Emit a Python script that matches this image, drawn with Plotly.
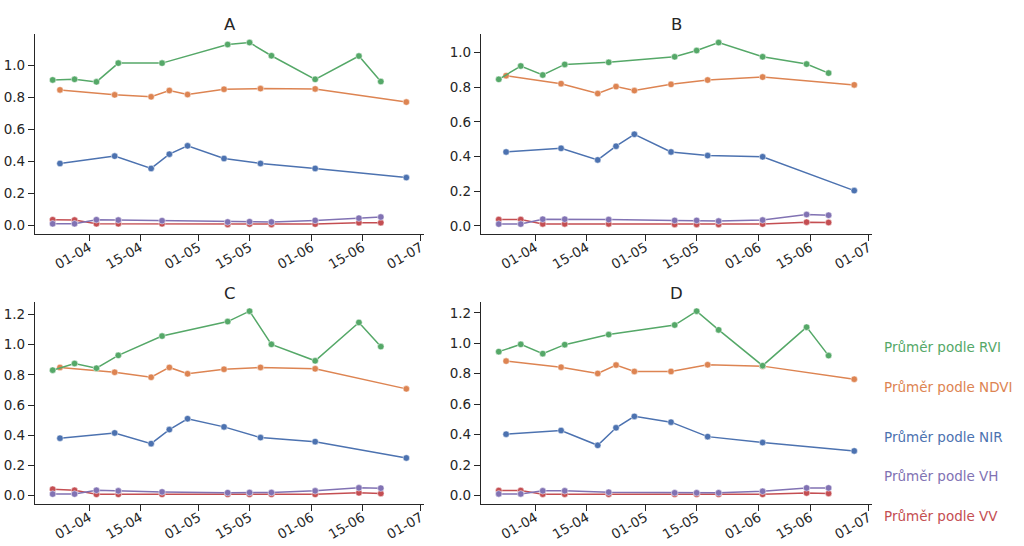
import plotly.graph_objects as go
from datetime import datetime, timedelta

# ---------------- data ----------------
S1_DATES = ["2023-03-22", "2023-03-28", "2023-04-03", "2023-04-09", "2023-04-21", "2023-05-09",
            "2023-05-15", "2023-05-21", "2023-06-02", "2023-06-14", "2023-06-20"]
S2_DATES = ["2023-03-24", "2023-04-08", "2023-04-18", "2023-04-23", "2023-04-28", "2023-05-08",
            "2023-05-18", "2023-06-02", "2023-06-27"]

PANELS = ["A", "B", "C", "D"]

RVI = {
    "A": [0.907, 0.911, 0.895, 1.012, 1.012, 1.128, 1.140, 1.058, 0.911, 1.056, 0.897],
    "B": [0.845, 0.922, 0.870, 0.931, 0.943, 0.975, 1.011, 1.057, 0.975, 0.933, 0.881],
    "C": [0.831, 0.875, 0.844, 0.929, 1.057, 1.153, 1.222, 1.002, 0.893, 1.147, 0.987],
    "D": [0.945, 0.993, 0.932, 0.991, 1.057, 1.120, 1.211, 1.088, 0.853, 1.106, 0.919],
}
NDVI = {
    "A": [0.845, 0.814, 0.802, 0.841, 0.816, 0.849, 0.853, 0.851, 0.769],
    "B": [0.866, 0.820, 0.763, 0.803, 0.780, 0.816, 0.841, 0.858, 0.813],
    "C": [0.849, 0.817, 0.784, 0.849, 0.807, 0.837, 0.849, 0.840, 0.707],
    "D": [0.883, 0.843, 0.802, 0.857, 0.815, 0.815, 0.859, 0.850, 0.764],
}
NIR = {
    "A": [0.386, 0.432, 0.355, 0.444, 0.496, 0.417, 0.386, 0.355, 0.298],
    "B": [0.426, 0.447, 0.380, 0.459, 0.528, 0.426, 0.405, 0.398, 0.203],
    "C": [0.380, 0.415, 0.344, 0.437, 0.509, 0.455, 0.384, 0.357, 0.249],
    "D": [0.403, 0.427, 0.330, 0.445, 0.520, 0.482, 0.387, 0.348, 0.293],
}
VV = {
    "A": [0.035, 0.033, 0.010, 0.010, 0.010, 0.006, 0.008, 0.006, 0.008, 0.017, 0.017],
    "B": [0.036, 0.036, 0.011, 0.011, 0.011, 0.008, 0.008, 0.008, 0.010, 0.021, 0.019],
    "C": [0.042, 0.035, 0.008, 0.008, 0.008, 0.008, 0.008, 0.008, 0.008, 0.018, 0.014],
    "D": [0.033, 0.033, 0.009, 0.009, 0.009, 0.008, 0.008, 0.008, 0.008, 0.017, 0.014],
}
VH = {
    "A": [0.010, 0.010, 0.035, 0.033, 0.029, 0.021, 0.023, 0.021, 0.031, 0.045, 0.052],
    "B": [0.010, 0.010, 0.038, 0.038, 0.036, 0.031, 0.031, 0.027, 0.033, 0.065, 0.061],
    "C": [0.010, 0.010, 0.035, 0.031, 0.024, 0.019, 0.020, 0.020, 0.031, 0.051, 0.049],
    "D": [0.011, 0.011, 0.031, 0.031, 0.022, 0.018, 0.018, 0.018, 0.028, 0.050, 0.050],
}

X_TICKS = ["2023-04-01", "2023-04-15", "2023-05-01", "2023-05-15", "2023-06-01", "2023-06-15", "2023-07-01"]
X_TICK_LABELS = ["01-04", "15-04", "01-05", "15-05", "01-06", "15-06", "01-07"]

LEGEND_LABELS = ["Průměr podle RVI", "Průměr podle NDVI", "Průměr podle NIR",
                 "Průměr podle VH", "Průměr podle VV"]

# ---------------- style ----------------
C_BLUE, C_ORANGE, C_GREEN, C_RED, C_PURPLE = "#4C72B0", "#DD8452", "#55A868", "#C44E52", "#8172B3"
INK = "#262626"
FONT = "DejaVu Sans"
W, H = 1024, 546

# axes boxes in pixels: (left, right, top, bottom)
BOXES = {
    "A": (35, 424, 33.5, 233.5),
    "B": (481, 872, 33.5, 233.5),
    "C": (35, 424, 302, 503.5),
    "D": (481, 872, 302, 503.5),
}

fig = go.Figure()

# x range with 5% margin (matplotlib style)
all_dates = [datetime.fromisoformat(d) for d in S1_DATES + S2_DATES]
dmin, dmax = min(all_dates), max(all_dates)
pad = (dmax - dmin) * 0.05
x_range = [(dmin - pad).isoformat(), (dmax + pad).isoformat()]

annotations = []
for i, p in enumerate(PANELS):
    n = "" if i == 0 else str(i + 1)
    xa, ya = "x" + n, "y" + n
    series = [
        (S2_DATES, NIR[p], C_BLUE),
        (S2_DATES, NDVI[p], C_ORANGE),
        (S1_DATES, RVI[p], C_GREEN),
        (S1_DATES, VV[p], C_RED),
        (S1_DATES, VH[p], C_PURPLE),
    ]
    for xs, ys, col in series:
        fig.add_trace(go.Scatter(
            x=xs, y=ys, mode="lines+markers", xaxis=xa, yaxis=ya,
            line=dict(color=col, width=1.5),
            marker=dict(color=col, size=6.5, line=dict(color="white", width=0.5)),
            showlegend=False, hoverinfo="skip",
        ))
    vals = RVI[p] + NDVI[p] + NIR[p] + VV[p] + VH[p]
    lo, hi = min(vals), max(vals)
    yp = (hi - lo) * 0.05
    l, r, t, b = BOXES[p]
    axis_common = dict(
        showgrid=False, zeroline=False, showline=True, linecolor=INK, linewidth=1.25,
        ticks="outside", ticklen=6, tickwidth=1.25, tickcolor=INK, automargin=False,
        tickfont=dict(family=FONT, size=13.5, color=INK),
    )
    fig.layout["xaxis" + n] = dict(
        axis_common, domain=[l / W, r / W], anchor=ya, type="date", range=x_range,
        tickvals=X_TICKS, ticktext=X_TICK_LABELS, tickangle=-30, ticklabelstandoff=-6,
    )
    fig.layout["yaxis" + n] = dict(
        axis_common, domain=[1 - b / H, 1 - t / H], anchor=xa, range=[lo - yp, hi + yp],
        dtick=0.2, tick0=0, tickformat=".1f",
    )
    annotations.append(dict(
        text=p, x=(l + r) / 2 / W, y=1 - (t - 9) / H, xref="paper", yref="paper",
        xanchor="center", yanchor="middle", showarrow=False,
        font=dict(family=FONT, size=16.5, color=INK),
    ))

LEG_COLORS = [C_GREEN, C_ORANGE, C_BLUE, C_PURPLE, C_RED]
LEG_Y = [346.5, 386.5, 436.5, 476, 515.5]
for lab, col, yy in zip(LEGEND_LABELS, LEG_COLORS, LEG_Y):
    annotations.append(dict(
        text=lab, x=882 / W, y=1 - yy / H, xref="paper", yref="paper",
        xanchor="left", yanchor="middle", showarrow=False,
        font=dict(family=FONT, size=13.5, color=col),
    ))

fig.update_layout(
    width=W, height=H, margin=dict(l=0, r=0, t=0, b=0),
    paper_bgcolor="white", plot_bgcolor="white",
    annotations=annotations, showlegend=False,
    font=dict(family=FONT, color=INK),
)

fig.write_html(
    "out.html",
    config={"displayModeBar": False},
    post_script="document.body.style.margin='0';document.body.style.padding='0';"
                "document.body.style.overflow='hidden';",
)
